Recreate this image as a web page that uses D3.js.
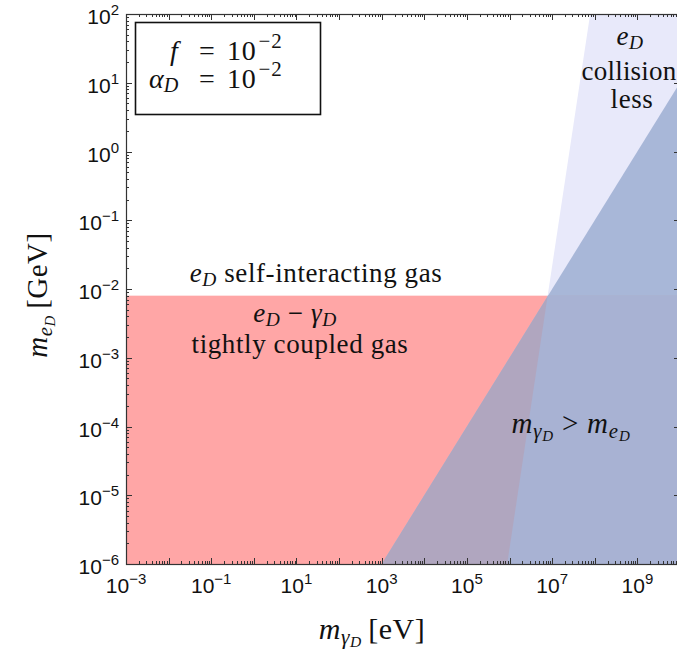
<!DOCTYPE html>
<html><head><meta charset="utf-8">
<script src="https://cdn.jsdelivr.net/npm/d3@7"></script>
<style>
body{margin:0;background:#fff;}
svg{display:block;}
.serif{font-family:"Liberation Serif","Times New Roman",serif;}
.sans{font-family:"Liberation Sans",Arial,sans-serif;}
</style></head>
<body>
<script>
// ---- data ----
const xDomain = [1e-3, 1e10];          // m_gammaD [eV]
const yDomain = [1e-6, 1e2];           // m_eD [GeV]
const xTickExps = [-3, -1, 1, 3, 5, 7, 9];
const yTickExps = [-6, -5, -4, -3, -2, -1, 0, 1, 2];
const coupledTop = 8e-3;               // upper edge of tightly coupled region [GeV]
const massLineX = [1e3, 1e10];         // m_gammaD = m_eD line [eV]
const massLineY = [1e-6, 1e1];         // [GeV]
const collLineX = [8.8e5, 7.8e7];      // collisionless boundary [eV]
const collLineY = [1e-6, 1e2];         // [GeV]

const W = 677, H = 650;
const svg = d3.select("body").append("svg").attr("width", W).attr("height", H);
const x = d3.scaleLog().domain(xDomain).range([126, 680]);
const y = d3.scaleLog().domain(yDomain).range([564, 14]);
const X0 = x.range()[0], X1 = x.range()[1], Y0 = y.range()[0], Y1 = y.range()[1];

const defs = svg.append("defs");
defs.append("clipPath").attr("id", "plot").append("rect")
  .attr("x", X0).attr("y", Y1).attr("width", X1 - X0).attr("height", Y0 - Y1);
defs.append("clipPath").attr("id", "red").append("rect")
  .attr("x", X0).attr("y", y(coupledTop)).attr("width", X1 - X0).attr("height", Y0 - y(coupledTop));

const line = d3.line().x(d => x(d[0])).y(d => y(d[1]));
const triPoly = [[massLineX[0], massLineY[0]], [massLineX[1], massLineY[1]], [xDomain[1], yDomain[0]]];
const collPoly = [[collLineX[0], collLineY[0]], [collLineX[1], collLineY[1]], [xDomain[1], yDomain[1]], [xDomain[1], yDomain[0]]];

const g = svg.append("g").attr("clip-path", "url(#plot)");
g.append("rect").attr("x", X0).attr("y", y(coupledTop)).attr("width", X1 - X0)
  .attr("height", Y0 - y(coupledTop)).attr("fill", "#ffa6a6");
g.append("path").attr("d", line(collPoly) + "Z").attr("fill", "#e8e9fa");
g.append("path").attr("d", line(triPoly) + "Z").attr("fill", "#a8b7d8");
const gr = g.append("g").attr("clip-path", "url(#red)");
gr.append("path").attr("d", line(triPoly) + "Z").attr("fill", "#b0a6bf");
gr.append("path").attr("d", line(collPoly) + "Z").attr("fill", "#a8b2d3");

// ---- axes frame and ticks ----
const axC = "#333";
const frame = svg.append("g");
frame.append("rect").attr("x", X0 + 0.5).attr("y", Y1 + 0.5).attr("width", X1 - X0)
  .attr("height", Y0 - Y1).attr("fill", "none").attr("stroke", axC).attr("stroke-width", 1.2);

function minorVals(lo, hi) {
  const out = [];
  for (let e = lo; e < hi; e++) for (let k = 2; k <= 9; k++) out.push(k * Math.pow(10, e));
  return out;
}
const xMaj = d3.range(-3, 11).map(e => Math.pow(10, e));
const yMaj = d3.range(-6, 3).map(e => Math.pow(10, e));
const xMin = minorVals(-3, 10), yMin = minorVals(-6, 2);
const tk = frame.append("g").attr("stroke", axC).attr("stroke-width", 1);
function hT(v, len) {
  const px = Math.round(x(v)) + 0.5;
  tk.append("line").attr("x1", px).attr("x2", px).attr("y1", Y0).attr("y2", Y0 - len);
  tk.append("line").attr("x1", px).attr("x2", px).attr("y1", Y1).attr("y2", Y1 + len);
}
function vT(v, len) {
  const py = Math.round(y(v)) + 0.5;
  tk.append("line").attr("y1", py).attr("y2", py).attr("x1", X0).attr("x2", X0 + len);
  tk.append("line").attr("y1", py).attr("y2", py).attr("x1", X1).attr("x2", X1 - len);
}
xMaj.forEach(v => hT(v, 6)); xMin.forEach(v => hT(v, 3));
yMaj.forEach(v => vT(v, 6)); yMin.forEach(v => vT(v, 3));

function pow10Label(sel, e) {
  sel.append("tspan").text("10");
  sel.append("tspan").attr("dy", -9).attr("font-size", 15).text(e < 0 ? "\u2212" + (-e) : String(e));
}
xTickExps.forEach(e => {
  const t = svg.append("text").attr("class", "sans").attr("font-size", 21)
    .attr("x", x(Math.pow(10, e))).attr("y", 593).attr("text-anchor", "middle").attr("fill", "#111");
  pow10Label(t, e);
});
yTickExps.forEach(e => {
  const t = svg.append("text").attr("class", "sans").attr("font-size", 21)
    .attr("x", 119).attr("y", y(Math.pow(10, e)) + 10).attr("text-anchor", "end").attr("fill", "#111");
  pow10Label(t, e);
});

// ---- math text helper ----
const levelShift = [0, 0.16, 0.26];
function mtext(px, py, parts, size, anchor, rot, ls) {
  const t = svg.append("text").attr("class", "serif").attr("font-size", size)
    .attr("text-anchor", anchor || "middle").attr("fill", "#111");
  if (ls) t.attr("letter-spacing", ls);
  if (rot) t.attr("transform", `translate(${px},${py}) rotate(${rot})`);
  else t.attr("x", px).attr("y", py);
  let cur = 0;
  parts.forEach(p => {
    const s = t.append("tspan").text(p.t);
    const lvl = p.l || 0;
    const dy = (levelShift[lvl] - levelShift[cur]) * size;
    if (dy !== 0) s.attr("dy", dy);
    cur = lvl;
    if (p.i) s.attr("font-style", "italic");
    if (lvl) s.attr("font-size", size * Math.pow(0.72, lvl));
  });
  return t;
}

// axis labels
mtext(372, 639, [{t: "m", i: 1}, {t: "\u03b3", i: 1, l: 1}, {t: "D", i: 1, l: 2}, {t: "\u2009[eV]", l: 0}], 30, "middle", 0, 0.5);
mtext(47, 295, [{t: "m", i: 1}, {t: "e", i: 1, l: 1}, {t: "D", i: 1, l: 2}, {t: "\u2009[GeV]", l: 0}], 29, "middle", -90, 0.5);

// region annotations
mtext(316, 282, [{t: "e", i: 1}, {t: "D", i: 1, l: 1}, {t: " self-interacting gas", l: 0}], 27, "middle", 0, 0.6);
mtext(295, 322, [{t: "e", i: 1}, {t: "D", i: 1, l: 1}, {t: " \u2212 ", l: 0}, {t: "\u03b3", i: 1}, {t: "D", i: 1, l: 1}], 27, "middle", 0, 0.6);
mtext(300, 353, [{t: "tightly coupled gas"}], 27, "middle", 0, 0.6);
mtext(571, 433, [{t: "m", i: 1}, {t: "\u03b3", i: 1, l: 1}, {t: "D", i: 1, l: 2}, {t: " > ", l: 0}, {t: "m", i: 1}, {t: "e", i: 1, l: 1}, {t: "D", i: 1, l: 2}], 29, "middle", 0, 0.8);
mtext(630, 45, [{t: "e", i: 1}, {t: "D", i: 1, l: 1}], 27, "middle", 0, 0.6);
mtext(629, 80, [{t: "collision"}], 27, "middle", 0, 0.2);
mtext(632, 108, [{t: "less"}], 27, "middle", 0, 0.6);

// legend box
svg.append("rect").attr("x", 135.5).attr("y", 22.5).attr("width", 185).attr("height", 92)
  .attr("fill", "#fff").attr("stroke", "#111").attr("stroke-width", 1.6);
mtext(170, 60, [{t: "f", i: 1}], 28, "start");
mtext(149, 88, [{t: "\u03b1", i: 1}, {t: "D", i: 1, l: 1}], 28, "start");
mtext(199, 60, [{t: "="}], 28, "start", 0, 0);
mtext(199, 88, [{t: "="}], 28, "start", 0, 0);
[60, 88].forEach(b => {
  const t = svg.append("text").attr("class", "serif").attr("font-size", 28).attr("x", 227).attr("y", b).attr("fill", "#111").attr("letter-spacing", 0.8);
  t.append("tspan").text("10");
  t.append("tspan").attr("dy", -12).attr("dx", 2).attr("font-size", 21).text("\u22122");
});
</script>
</body></html>
